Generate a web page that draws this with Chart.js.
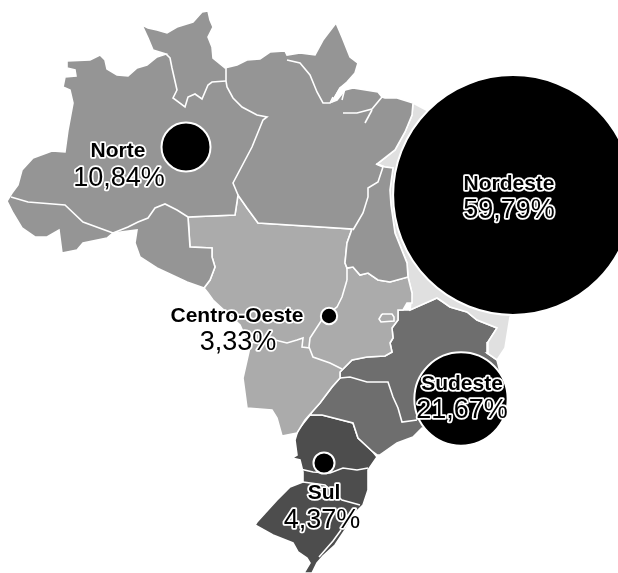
<!DOCTYPE html>
<html lang="pt">
<head>
<meta charset="utf-8">
<title>Regiões do Brasil</title>
<script src="https://cdn.jsdelivr.net/npm/chart.js@4"></script>
<style>
  html, body { margin: 0; padding: 0; background: #fff; }
  canvas { display: block; }
</style>
</head>
<body>
<canvas id="mapChart" width="618" height="573"></canvas>
<script>
const regions = ["Norte", "Nordeste", "Centro-Oeste", "Sudeste", "Sul"];
const shares = [10.84, 59.79, 3.33, 21.67, 4.37];
const shareLabels = ["10,84%", "59,79%", "3,33%", "21,67%", "4,37%"];

// bubble anchors, in map units
const bubbleX = [186, 513, 329, 461, 324];
const bubbleY = [147, 195, 316, 399, 463];

// outlines
const norteOutline = [[67,61],[90,60],[100,55],[105,60],[107,69],[117,75],[128,76],[137,68],[147,65],[157,57],[166,54],[153,50],[148,38],[142,25],[148,28],[157,30],[167,33],[177,27],[193,22],[202,12],[208,11],[210,20],[213,27],[208,37],[212,47],[213,58],[225,68],[237,65],[247,60],[260,59],[270,52],[285,51],[287,55],[300,53],[315,55],[323,40],[336,23],[342,37],[350,57],[358,63],[355,73],[347,82],[340,88],[332,102],[337,100],[345,90],[353,88],[378,92],[382,97],[385,98],[397,98],[413,103],[412,115],[405,132],[395,150],[377,164],[385,167],[393,168],[390,190],[391,205],[395,233],[407,263],[408,277],[390,282],[378,280],[368,273],[360,275],[353,267],[347,268],[345,263],[347,243],[352,229],[258,223],[247,208],[238,195],[235,215],[188,217],[190,247],[212,248],[212,257],[215,267],[210,280],[204,288],[187,282],[172,275],[157,268],[140,257],[135,243],[137,230],[113,233],[107,238],[83,243],[77,250],[62,253],[59,230],[47,237],[35,237],[22,228],[13,213],[7,201],[12,193],[18,185],[22,170],[33,158],[52,151],[65,152],[68,130],[73,103],[70,90],[63,87],[65,77],[76,76],[75,70],[67,68]];
const centroOutline = [[188,217],[235,215],[238,195],[247,208],[258,223],[352,229],[347,243],[345,263],[347,268],[353,267],[360,275],[368,273],[378,280],[390,282],[408,277],[412,293],[412,303],[407,303],[403,310],[398,310],[398,320],[392,328],[393,338],[390,343],[392,352],[385,356],[367,357],[352,360],[340,372],[340,378],[332,387],[320,403],[312,412],[305,420],[297,433],[282,436],[277,418],[272,410],[247,408],[245,393],[243,378],[250,347],[240,325],[213,300],[208,293],[204,288],[210,280],[215,267],[212,257],[212,248],[190,247]];
const nordesteOutline = [[413,103],[430,112],[450,120],[510,150],[560,200],[540,300],[510,317],[505,348],[497,360],[487,353],[488,342],[497,328],[477,320],[467,312],[450,307],[443,302],[437,298],[410,310],[412,293],[408,277],[407,263],[395,233],[391,205],[390,190],[393,168],[385,167],[377,164],[395,150],[405,132],[412,115]];
const sudesteOutline = [[340,372],[352,360],[367,357],[385,356],[392,352],[390,343],[393,338],[392,328],[398,320],[398,310],[403,310],[410,310],[437,298],[443,302],[450,307],[467,312],[477,320],[497,328],[488,342],[487,353],[497,360],[500,372],[495,395],[470,425],[422,428],[413,437],[397,443],[380,455],[377,455],[373,452],[358,438],[353,423],[322,415],[310,415],[312,412],[320,403],[332,387],[340,378]];
const sulOutline = [[310,415],[322,415],[353,423],[358,438],[373,452],[377,457],[368,470],[368,490],[363,505],[355,513],[345,530],[335,545],[323,556],[317,563],[312,573],[304,573],[310,563],[307,558],[298,552],[293,543],[273,535],[255,525],[257,522],[277,500],[290,487],[303,482],[303,472],[300,460],[292,458],[297,455],[295,440],[298,430]];

// state borders and water, white lines over the fills
const stateBorders = [
  [[166,54],[170,58],[172,68],[177,90],[173,98],[185,107],[188,97],[195,94],[202,99],[208,85],[212,82],[226,81]],
  [[226,68],[226,81],[227,87],[233,98],[242,107],[257,115],[267,117],[263,120],[252,147],[233,183],[238,195]],
  [[188,217],[177,210],[165,204],[155,208],[148,218],[138,222],[128,227],[113,233]],
  [[11,197],[28,202],[65,205],[83,222],[113,233]],
  [[287,60],[300,63],[310,75],[317,92],[323,103],[330,103],[333,97]],
  [[376,164],[383,167],[378,182],[368,188],[368,197],[363,213],[353,230]],
  [[347,280],[342,297],[337,307],[323,318],[310,338],[309,347],[313,357],[330,363],[342,369]],
  [[347,268],[347,280]],
  [[250,343],[275,340],[287,343],[297,340],[303,338],[302,347],[310,348]],
  [[382,314],[392,314],[394,317],[394,321],[381,322],[379,319],[382,314]],
  [[340,378],[350,377],[367,382],[388,382],[393,397],[398,408],[402,422],[417,420]],
  [[300,469],[313,472],[330,473],[343,468],[357,470],[368,468]],
  [[303,482],[325,485],[342,500],[360,505]],
  [[341,530],[333,541],[319,557]],
  [[332,102],[340,88],[353,80],[363,87]],
  [[342,100],[345,88]],
  [[343,113],[357,113],[372,109],[382,97]],
  [[365,123],[372,110]]
];

function toPoints(outline) {
  return outline.map(function (p) {
    return { x: p[0], y: p[1] };
  });
}

function areaDataset(outline, color) {
  const closed = toPoints(outline);
  closed.push({ x: outline[0][0], y: outline[0][1] });
  return {
    data: closed,
    showLine: true,
    fill: "shape",
    tension: 0,
    backgroundColor: color,
    borderColor: "#fff",
    borderWidth: 1.6,
    pointRadius: 0,
    order: 5
  };
}

const datasets = [
  areaDataset(norteOutline, "#959595"),
  areaDataset(centroOutline, "#ababab"),
  areaDataset(nordesteOutline, "#e0e0e0"),
  areaDataset(sudesteOutline, "#6e6e6e"),
  areaDataset(sulOutline, "#4d4d4d")
];

stateBorders.forEach(function (line) {
  datasets.push({
    data: toPoints(line),
    showLine: true,
    fill: false,
    tension: 0,
    borderColor: "#fff",
    borderWidth: 1.6,
    pointRadius: 0,
    order: 3
  });
});

// bubble radius grows a little slower than the share
datasets.push({
  type: "bubble",
  data: shares.map(function (share, i) {
    return { x: bubbleX[i], y: bubbleY[i], r: 2.67 * Math.pow(share, 0.93) };
  }),
  backgroundColor: "#000",
  borderColor: "#fff",
  borderWidth: 2,
  order: 1
});

// text anchors for the labels
const nameX = [118, 509, 237, 462, 324];
const nameY = [151, 184, 316, 384, 493];
const valueX = [119, 509, 238, 462, 322];
const valueY = [179, 211, 343, 411, 521];

const regionLabels = {
  id: "regionLabels",
  afterDatasetsDraw(chart) {
    const ctx = chart.ctx;
    const xScale = chart.scales.x;
    const yScale = chart.scales.y;

    function outlined(text, x, y, font) {
      ctx.font = font;
      ctx.strokeText(text, xScale.getPixelForValue(x), yScale.getPixelForValue(y));
      ctx.fillText(text, xScale.getPixelForValue(x), yScale.getPixelForValue(y));
    }

    ctx.save();
    ctx.textAlign = "center";
    ctx.textBaseline = "middle";
    ctx.lineJoin = "round";
    ctx.lineWidth = 3.5;
    ctx.strokeStyle = "#fff";
    ctx.fillStyle = "#000";
    regions.forEach(function (name, i) {
      outlined(name, nameX[i], nameY[i], 'bold 21px "Liberation Sans", Arial, sans-serif');
      outlined(shareLabels[i], valueX[i], valueY[i], '27px "Liberation Sans", Arial, sans-serif');
    });
    ctx.restore();
  }
};

new Chart(document.getElementById("mapChart"), {
  type: "scatter",
  data: { datasets: datasets },
  options: {
    responsive: false,
    animation: false,
    events: [],
    layout: { padding: 0, autoPadding: false },
    plugins: {
      legend: { display: false },
      tooltip: { enabled: false }
    },
    scales: {
      x: { type: "linear", min: 0, max: 618, display: false },
      y: { type: "linear", min: 0, max: 573, reverse: true, display: false }
    }
  },
  plugins: [regionLabels]
});
</script>
</body>
</html>
